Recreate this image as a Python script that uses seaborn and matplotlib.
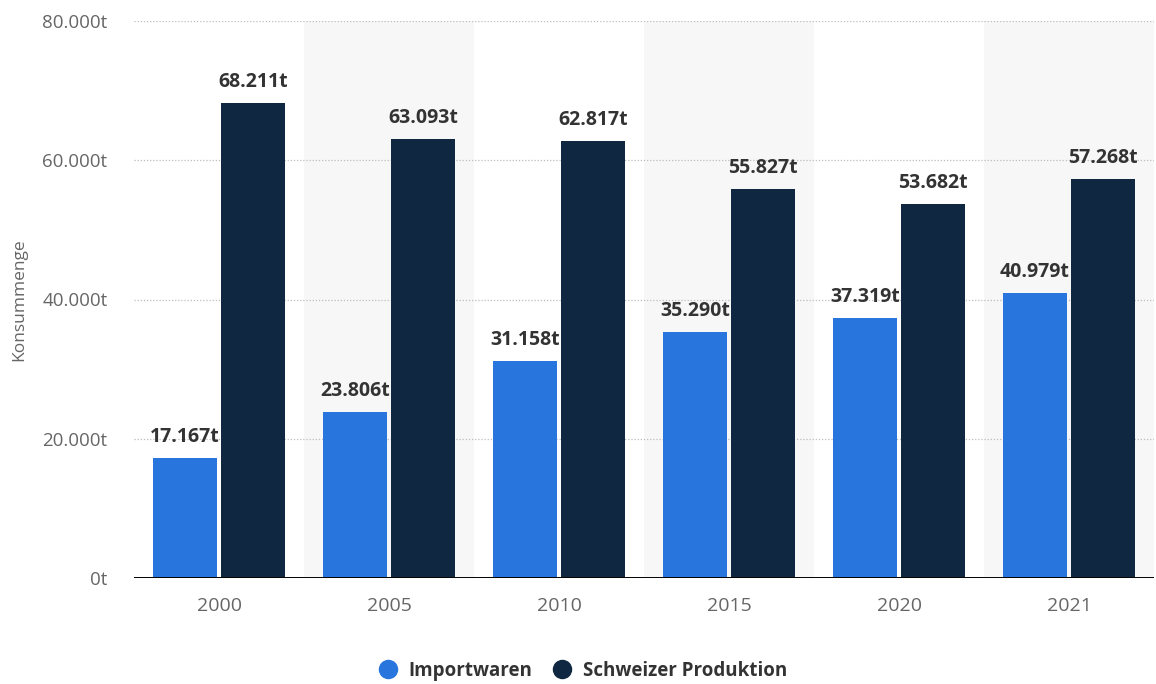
import matplotlib
matplotlib.use("Agg")
import matplotlib.pyplot as plt
from matplotlib.lines import Line2D
import seaborn as sns
import pandas as pd

# Konsummenge nach Herkunft (Tonnen)
jahre = ["2000", "2005", "2010", "2015", "2020", "2021"]
importwaren = [17167, 23806, 31158, 35290, 37319, 40979]
schweizer_produktion = [68211, 63093, 62817, 55827, 53682, 57268]
serien = ["Importwaren", "Schweizer Produktion"]
farben = ["#2876dd", "#0f2741"]
y_ticks = [0, 20000, 40000, 60000, 80000]

df = pd.DataFrame({
    "Jahr": jahre * 2,
    "Wert": importwaren + schweizer_produktion,
    "Serie": [serien[0]] * len(jahre) + [serien[1]] * len(jahre),
})

sns.set_theme(style="white")
plt.rcParams["font.family"] = ["Open Sans", "DejaVu Sans"]


def fmt(v):
    return f"{v:,.0f}".replace(",", ".") + "t"


fig = plt.figure(figsize=(11.56, 6.84), dpi=100)
ax = fig.add_axes([134 / 1156, 1 - 578 / 684, 1020 / 1156, (578 - 21) / 684])

# alternating column bands
for i in range(len(jahre)):
    if i % 2 == 1:
        ax.axvspan(i - 0.5, i + 0.5, color="#f7f7f7", zorder=0, lw=0)

sns.barplot(data=df, x="Jahr", y="Wert", hue="Serie", palette=farben,
            width=0.8, gap=0.05, ax=ax, legend=False, zorder=3,
            edgecolor="none", saturation=1)

ax.set_xlim(-0.5, len(jahre) - 0.5)
ax.set_ylim(0, 80000)
ax.set_yticks(y_ticks)
ax.set_yticklabels([fmt(v) for v in y_ticks])
for v in y_ticks[1:]:
    ax.axhline(v, color="#bdbdbd", lw=0.9, ls=(0, (1, 1.5)), zorder=1)
ax.axhline(0, color="#000000", lw=1.4, zorder=4)

for cont in ax.containers:
    labels = [fmt(b.get_height()) for b in cont]
    ax.bar_label(cont, labels=labels, padding=8, fontsize=14,
                 fontweight="bold", color="#333333")

for s in ax.spines.values():
    s.set_visible(False)
ax.tick_params(axis="both", length=0, labelcolor="#666666")
ax.tick_params(axis="y", pad=19, labelsize=13.5)
ax.tick_params(axis="x", pad=14, labelsize=14)
ax.set_xlabel("")
ax.set_ylabel("Konsummenge", fontsize=12.5, color="#666666")
ax.yaxis.set_label_coords(-0.105, 0.5)

handles = [Line2D([0], [0], marker="o", color="none", markerfacecolor=c,
                  markeredgecolor=c, markersize=13) for c in farben]
leg = fig.legend(handles, serien, loc="center", bbox_to_anchor=(578 / 1156, 1 - 671 / 684),
                 ncol=2, frameon=False, handletextpad=0.1, columnspacing=0.6,
                 prop={"weight": "bold", "size": 13.5})
for t in leg.get_texts():
    t.set_color("#333333")

fig.savefig("out.png", dpi=100)
